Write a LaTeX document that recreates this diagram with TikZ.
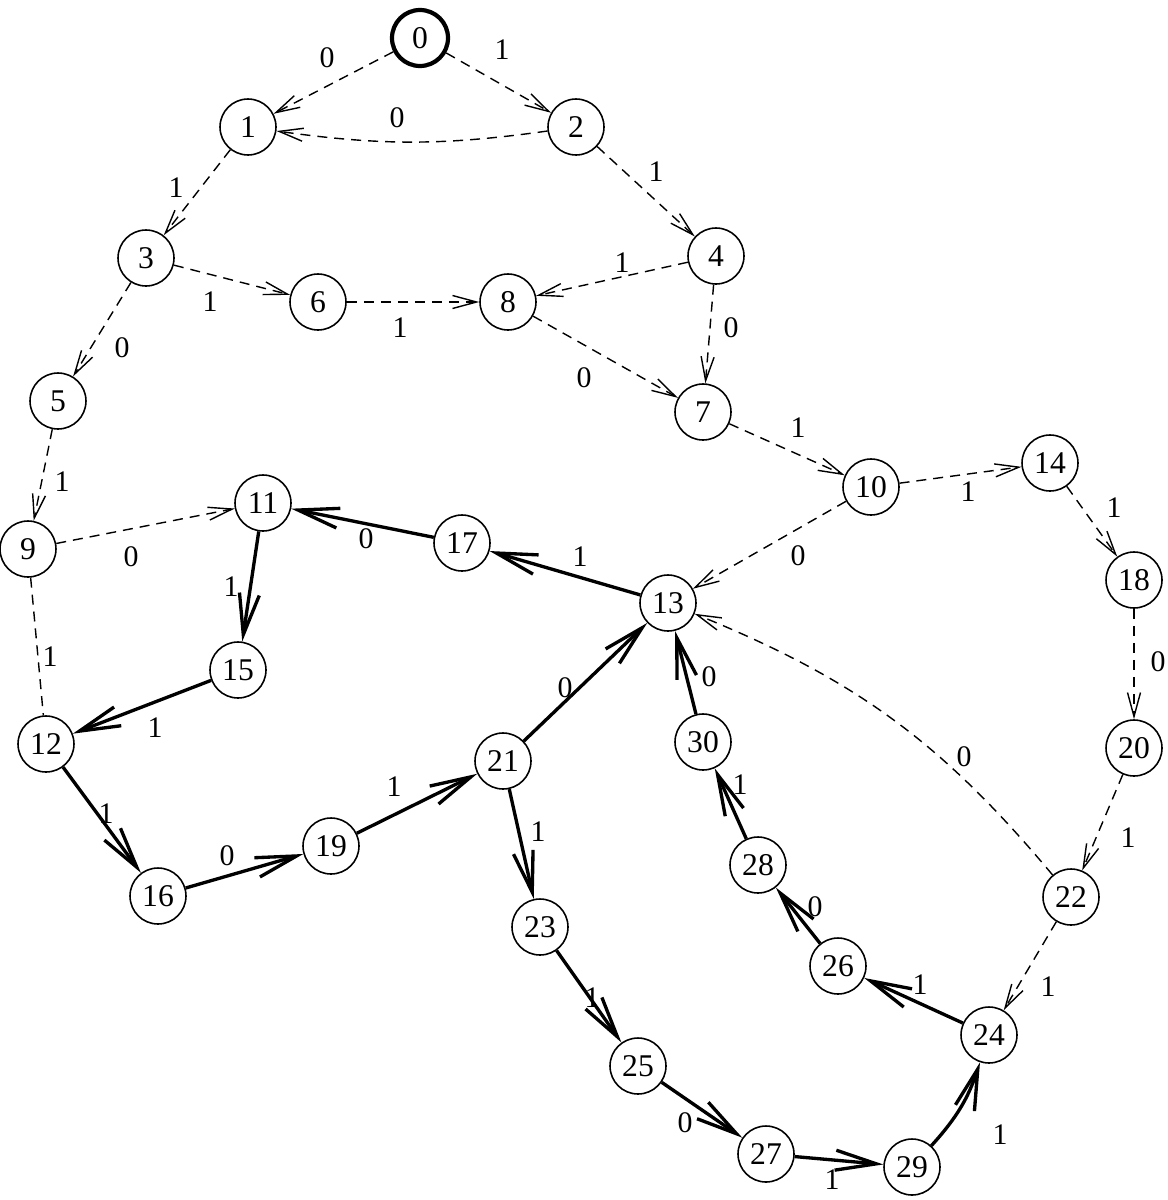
\documentclass[tikz,border=0pt]{standalone}
\usepackage{fontspec}
\setmainfont{Liberation Serif}
\usetikzlibrary{arrows.meta}
\begin{document}
\begin{tikzpicture}[x=0.02cm,y=-0.02cm,
  st/.style={circle,draw,line width=0.9pt,minimum size=1.12cm,inner sep=0pt,font=\fontsize{18}{20}\selectfont},
  init/.style={st,line width=2.4pt},
  dsh/.style={line width=0.8pt,dash pattern=on 0.2cm off 0.14cm,-{Straight Barb[length=0.48cm,width=0.26cm,line width=0.8pt]}},
  dnone/.style={line width=0.8pt,dash pattern=on 0.2cm off 0.14cm},
  sol/.style={line width=1.9pt,-{Straight Barb[length=0.82cm,width=0.4cm,line width=1.9pt]}},
  lab/.style={font=\fontsize{17}{19}\selectfont,inner sep=0pt}]
\useasboundingbox (0,0) rectangle (1167,1200);
% states
\node[init] (n0) at (420,38) {0};
\node[st] (n1) at (248,127) {1};
\node[st] (n2) at (576,127) {2};
\node[st] (n3) at (146,258) {3};
\node[st] (n4) at (716,256) {4};
\node[st] (n5) at (58,401) {5};
\node[st] (n6) at (318,302) {6};
\node[st] (n7) at (703,412) {7};
\node[st] (n8) at (508,302) {8};
\node[st] (n9) at (28,549) {9};
\node[st] (n10) at (871,487) {10};
\node[st] (n11) at (263,503) {11};
\node[st] (n12) at (46,744) {12};
\node[st] (n13) at (668,603) {13};
\node[st] (n14) at (1050,463) {14};
\node[st] (n15) at (238,670) {15};
\node[st] (n16) at (158,896) {16};
\node[st] (n17) at (462,543) {17};
\node[st] (n18) at (1134,580) {18};
\node[st] (n19) at (331,846) {19};
\node[st] (n20) at (1134,748) {20};
\node[st] (n21) at (503,761) {21};
\node[st] (n22) at (1071,897) {22};
\node[st] (n23) at (540,927) {23};
\node[st] (n24) at (989,1035) {24};
\node[st] (n25) at (638,1066) {25};
\node[st] (n26) at (838,966) {26};
\node[st] (n27) at (766,1154) {27};
\node[st] (n28) at (758,865) {28};
\node[st] (n29) at (912,1167) {29};
\node[st] (n30) at (703,742) {30};
% dashed transitions
\draw[dsh] (n0) -- (n1);
\draw[dsh] (n0) -- (n2);
\draw[dsh] (n2) to[bend left=8] (n1);
\draw[dsh] (n1) -- (n3);
\draw[dsh] (n2) -- (n4);
\draw[dsh] (n3) -- (n6);
\draw[dsh] (n3) -- (n5);
\draw[dsh] (n6) -- (n8);
\draw[dsh] (n4) -- (n8);
\draw[dsh] (n4) -- (n7);
\draw[dsh] (n8) -- (n7);
\draw[dsh] (n7) -- (n10);
\draw[dsh] (n10) -- (n14);
\draw[dsh] (n10) -- (n13);
\draw[dsh] (n14) -- (n18);
\draw[dsh] (n18) -- (n20);
\draw[dsh] (n20) -- (n22);
\draw[dsh] (n22) -- (n24);
\draw[dsh] (n22) to[bend right=14] (n13);
\draw[dsh] (n5) -- (n9);
\draw[dsh] (n9) -- (n11);
\draw[dnone] (n9) -- (n12);
% solid transitions
\draw[sol] (n17) -- (n11);
\draw[sol] (n13) -- (n17);
\draw[sol] (n11) -- (n15);
\draw[sol] (n15) -- (n12);
\draw[sol] (n12) -- (n16);
\draw[sol] (n16) -- (n19);
\draw[sol] (n19) -- (n21);
\draw[sol] (n21) -- (n13);
\draw[sol] (n21) -- (n23);
\draw[sol] (n30) -- (n13);
\draw[sol] (n28) -- (n30);
\draw[sol] (n26) -- (n28);
\draw[sol] (n24) -- (n26);
\draw[sol] (n23) -- (n25);
\draw[sol] (n25) -- (n27);
\draw[sol] (n27) -- (n29);
\draw[sol] (n29) to[bend right=12] (n24);
% labels
\node[lab] (l01) at (327,58) {0};
\node[lab] (l02) at (502,50) {1};
\node[lab] (l21) at (397,118) {0};
\node[lab] (l13) at (176,188) {1};
\node[lab] (l24) at (656,172) {1};
\node[lab] (l36) at (210,302) {1};
\node[lab] (l35) at (122,348) {0};
\node[lab] (l68) at (400,328) {1};
\node[lab] (l48) at (622,263) {1};
\node[lab] (l47) at (731,328) {0};
\node[lab] (l87) at (584,378) {0};
\node[lab] (l710) at (798,428) {1};
\node[lab] (l1014) at (968,492) {1};
\node[lab] (l1013) at (798,556) {0};
\node[lab] (l1418) at (1114,508) {1};
\node[lab] (l1820) at (1158,662) {0};
\node[lab] (l2022) at (1128,838) {1};
\node[lab] (l2224) at (1048,987) {1};
\node[lab] (l2213) at (964,757) {0};
\node[lab] (l59) at (62,482) {1};
\node[lab] (l911) at (131,557) {0};
\node[lab] (l912) at (50,657) {1};
\node[lab] (l1711) at (366,539) {0};
\node[lab] (l1317) at (580,557) {1};
\node[lab] (l1115) at (231,587) {1};
\node[lab] (l1512) at (155,728) {1};
\node[lab] (l1216) at (106,814) {1};
\node[lab] (l1619) at (227,856) {0};
\node[lab] (l1921) at (394,787) {1};
\node[lab] (l2113) at (565,688) {0};
\node[lab] (l2123) at (538,832) {1};
\node[lab] (l3013) at (709,677) {0};
\node[lab] (l2830) at (740,785) {1};
\node[lab] (l2628) at (815,907) {0};
\node[lab] (l2426) at (920,985) {1};
\node[lab] (l2325) at (592,998) {1};
\node[lab] (l2527) at (685,1123) {0};
\node[lab] (l2729) at (832,1180) {1};
\node[lab] (l2924) at (1000,1135) {1};
\end{tikzpicture}
\end{document}
